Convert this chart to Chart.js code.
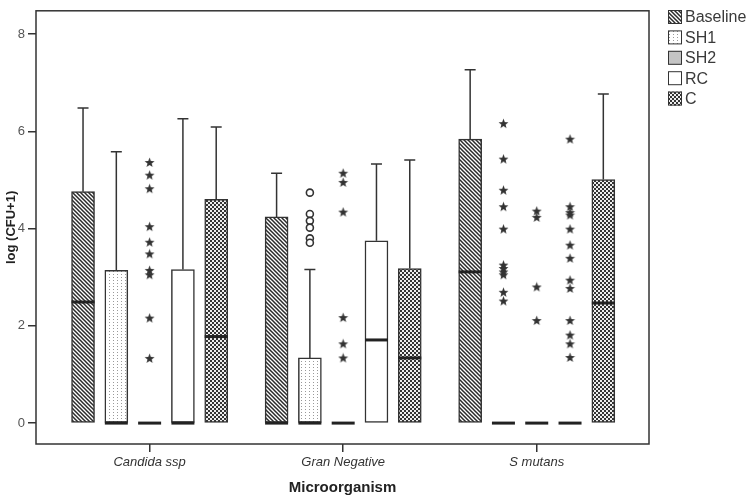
<!DOCTYPE html>
<html lang="en">
<head>
    <meta charset="UTF-8">
    <title>log (CFU+1) by Microorganism</title>
    <script src="https://cdn.jsdelivr.net/npm/chart.js"></script>
    <style>
        html, body { margin: 0; padding: 0; background: #fff; }
        #wrap { width: 750px; height: 501px; }
    </style>
</head>
<body>
    <div id="wrap"><canvas id="boxChart" width="750" height="501"></canvas></div>
    <script>
        // Categories and groups
        const categories = ['Candida ssp', 'Gran Negative', 'S mutans'];
        const seriesNames = ['Baseline', 'SH1', 'SH2', 'RC', 'C'];
        const yTicks = [0, 2, 4, 6, 8];

        // Box statistics, one row per series, one column per category
        const lowerQuartile = [
            [0, 0, 0],
            [0, 0, 0],
            [0, 0, 0],
            [0, 0, 0],
            [0, 0, 0]
        ];
        const upperQuartile = [
            [4.76, 4.24, 5.84],
            [3.14, 1.34, 0],
            [0, 0, 0],
            [3.16, 3.75, 0],
            [4.60, 3.18, 5.01]
        ];
        const medians = [
            [2.49, 0, 3.11],
            [0, 0, 0],
            [0, 0, 0],
            [0, 1.71, 0],
            [1.78, 1.34, 2.47]
        ];
        const upperWhisker = [
            [6.48, 5.14, 7.27],
            [5.58, 3.16, null],
            [null, null, null],
            [6.26, 5.33, null],
            [6.09, 5.41, 6.77]
        ];

        // Outliers: [category index, series index, values]
        const extremes = [
            [0, 2, [5.36, 5.10, 4.82, 4.04, 3.72, 3.48, 3.14, 3.05, 2.16, 1.33]],
            [1, 2, [5.14, 4.95, 4.34, 2.17, 1.63, 1.34]],
            [2, 1, [6.16, 5.43, 4.79, 4.45, 3.99, 3.25, 3.18, 3.11, 3.05, 2.69, 2.51]],
            [2, 2, [4.36, 4.23, 2.80, 2.11]],
            [2, 3, [5.84, 4.45, 4.33, 4.28, 3.99, 3.66, 3.39, 2.94, 2.77, 2.11, 1.81, 1.63, 1.35]]
        ];
        const mildOutliers = [
            [1, 1, [4.74, 4.30, 4.16, 4.02, 3.80, 3.71]]
        ];

        const FONT = "'Liberation Sans', Arial, sans-serif";
        const INK = '#333';
        const STEP = 0.172; // distance between boxes inside a group

        function slotX(c, s) { return c + 1 + (s - 2) * STEP; }

        function makePattern(w, h, draw) {
            const c = document.createElement('canvas');
            c.width = w; c.height = h;
            const g = c.getContext('2d');
            draw(g);
            return g.createPattern(c, 'repeat');
        }

        const ctx = document.getElementById('boxChart').getContext('2d');

        const fills = [
            makePattern(4, 4, g => {
                g.fillStyle = '#fff'; g.fillRect(0, 0, 4, 4);
                g.strokeStyle = '#2a2a2a'; g.lineWidth = 1.5;
                g.beginPath();
                g.moveTo(-1, -1); g.lineTo(5, 5);
                g.moveTo(-1, 3); g.lineTo(1, 5);
                g.moveTo(3, -1); g.lineTo(5, 1);
                g.stroke();
            }),
            makePattern(4, 3, g => {
                g.fillStyle = '#fff'; g.fillRect(0, 0, 4, 3);
                g.fillStyle = '#999'; g.fillRect(1, 1, 1, 1);
            }),
            '#c4c4c4',
            '#fff',
            makePattern(4, 4, g => {
                g.fillStyle = '#333'; g.fillRect(0, 0, 4, 4);
                g.fillStyle = '#eee'; g.fillRect(0, 0, 2, 2); g.fillRect(2, 2, 2, 2);
            })
        ];

        // filled star marker
        const star = document.createElement('canvas');
        star.width = 11; star.height = 11;
        (function () {
            const g = star.getContext('2d');
            g.fillStyle = '#333';
            g.beginPath();
            for (let i = 0; i < 10; i++) {
                const r = i % 2 === 0 ? 5.2 : 2.2;
                const a = -Math.PI / 2 + i * Math.PI / 5;
                const px = 5.5 + r * Math.cos(a), py = 5.8 + r * Math.sin(a);
                if (i === 0) g.moveTo(px, py); else g.lineTo(px, py);
            }
            g.closePath();
            g.fill();
        })();

        const datasets = seriesNames.map((name, s) => ({
            type: 'bar',
            label: name,
            data: categories.map((cat, c) => ({ x: slotX(c, s), y: [lowerQuartile[s][c], upperQuartile[s][c]] })),
            backgroundColor: fills[s],
            borderColor: INK,
            borderWidth: 1.5,
            borderSkipped: false,
            grouped: false,
            barThickness: 23
        }));

        datasets.push({
            type: 'scatter',
            label: 'extremes',
            data: extremes.flatMap(([c, s, vals]) => vals.map(v => ({ x: slotX(c, s), y: v }))),
            pointStyle: star,
            pointRadius: 5
        });
        datasets.push({
            type: 'scatter',
            label: 'outliers',
            data: mildOutliers.flatMap(([c, s, vals]) => vals.map(v => ({ x: slotX(c, s), y: v }))),
            pointStyle: 'circle',
            pointRadius: 3.5,
            borderWidth: 1.6,
            borderColor: INK,
            backgroundColor: '#fff'
        });

        // whiskers, medians, frame and legend
        const boxExtras = {
            id: 'boxExtras',
            afterDatasetsDraw(chart) {
                const { ctx, chartArea: a, scales: { x, y } } = chart;
                ctx.save();
                ctx.strokeStyle = INK;
                seriesNames.forEach((name, s) => {
                    categories.forEach((cat, c) => {
                        const px = x.getPixelForValue(slotX(c, s));
                        const hi = upperWhisker[s][c];
                        if (hi !== null) {
                            const top = y.getPixelForValue(hi);
                            ctx.lineWidth = 1.5;
                            ctx.beginPath();
                            ctx.moveTo(px, y.getPixelForValue(upperQuartile[s][c]));
                            ctx.lineTo(px, top);
                            ctx.moveTo(px - 5.5, top);
                            ctx.lineTo(px + 5.5, top);
                            ctx.stroke();
                        }
                        const my = y.getPixelForValue(medians[s][c]);
                        ctx.lineWidth = 3;
                        ctx.strokeStyle = '#222';
                        ctx.beginPath();
                        ctx.moveTo(px - 11.5, my);
                        ctx.lineTo(px + 11.5, my);
                        ctx.stroke();
                        ctx.strokeStyle = INK;
                    });
                });
                ctx.lineWidth = 1.5;
                ctx.strokeRect(a.left, a.top, a.right - a.left, a.bottom - a.top);

                // legend
                ctx.font = '16px ' + FONT;
                ctx.textBaseline = 'middle';
                ctx.textAlign = 'left';
                seriesNames.forEach((name, s) => {
                    const cy = 17 + s * 20.4;
                    ctx.fillStyle = fills[s];
                    ctx.fillRect(668, cy - 7, 14, 14);
                    ctx.lineWidth = 1;
                    ctx.strokeStyle = INK;
                    ctx.strokeRect(668.5, cy - 6.5, 13, 13);
                    ctx.fillStyle = '#3a3a3a';
                    ctx.fillText(name, 685, cy + 1);
                });
                ctx.restore();
            }
        };

        new Chart(ctx, {
            type: 'bar',
            data: { datasets: datasets },
            options: {
                responsive: false,
                animation: false,
                events: [],
                layout: { padding: { left: 0, top: 6, right: 101, bottom: 0 } },
                plugins: { legend: { display: false }, tooltip: { enabled: false } },
                scales: {
                    x: {
                        type: 'linear',
                        min: 0.413,
                        max: 3.58,
                        offset: false,
                        afterBuildTicks: scale => { scale.ticks = categories.map((c, i) => ({ value: i + 1 })); },
                        afterFit: scale => { scale.height = 57; },
                        ticks: {
                            callback: v => categories[v - 1],
                            color: INK,
                            padding: 3,
                            maxRotation: 0,
                            font: { family: FONT, size: 13, style: 'italic' }
                        },
                        grid: { drawOnChartArea: false, drawTicks: true, tickLength: 8, color: INK, lineWidth: 1.5, offset: false },
                        border: { display: false },
                        title: {
                            display: true,
                            text: 'Microorganism',
                            color: '#222',
                            padding: { top: 4, bottom: 4 },
                            font: { family: FONT, size: 15, weight: 'bold' }
                        }
                    },
                    y: {
                        min: -0.43,
                        max: 8.48,
                        afterBuildTicks: scale => { scale.ticks = yTicks.map(v => ({ value: v })); },
                        afterFit: scale => { scale.width = 36; },
                        ticks: {
                            color: '#555',
                            padding: 3,
                            font: { family: FONT, size: 13 }
                        },
                        grid: { drawOnChartArea: false, drawTicks: true, tickLength: 8, color: INK, lineWidth: 1.5 },
                        border: { display: false },
                        title: {
                            display: true,
                            text: 'log (CFU+1)',
                            color: '#222',
                            padding: { top: 4, bottom: 4 },
                            font: { family: FONT, size: 13, weight: 'bold' }
                        }
                    }
                }
            },
            plugins: [boxExtras]
        });
    </script>
</body>
</html>
